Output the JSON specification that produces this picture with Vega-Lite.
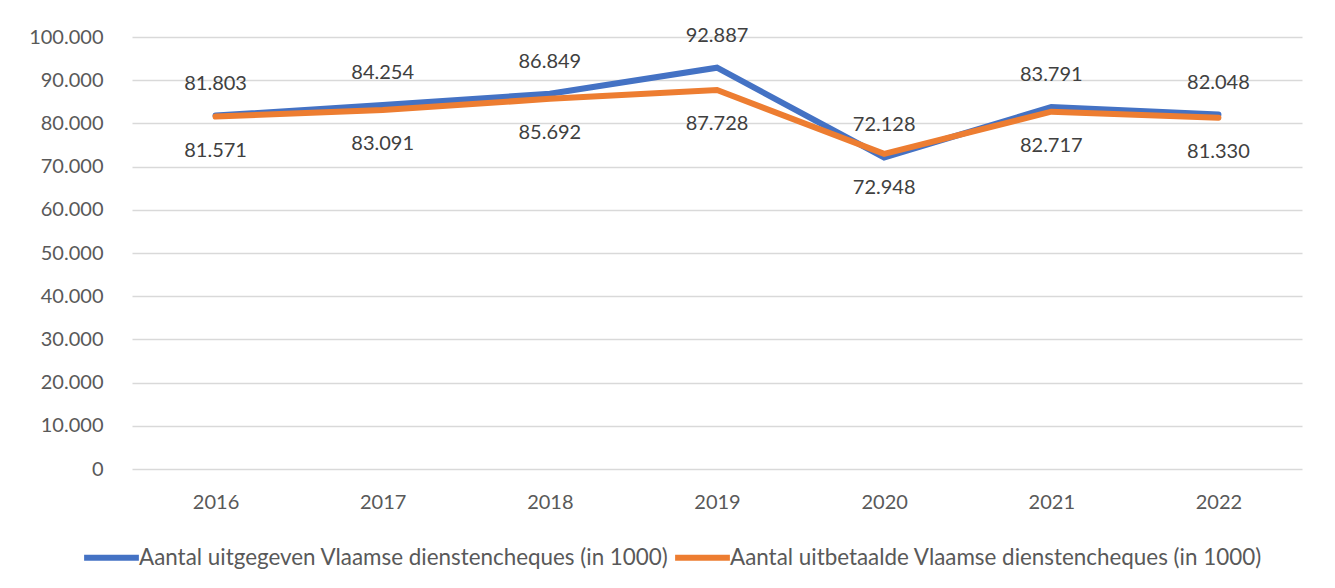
{
  "$schema": "https://vega.github.io/schema/vega-lite/v6.json",
  "width": 1170,
  "height": 432,
  "autosize": {"type": "none"},
  "padding": {"left": 132, "top": 37, "right": 33, "bottom": 119},
  "background": "white",
  "data": {
    "values": [
      {"year": "2016", "series": "Aantal uitgegeven Vlaamse dienstencheques (in 1000)", "value": 81803},
      {"year": "2017", "series": "Aantal uitgegeven Vlaamse dienstencheques (in 1000)", "value": 84254},
      {"year": "2018", "series": "Aantal uitgegeven Vlaamse dienstencheques (in 1000)", "value": 86849},
      {"year": "2019", "series": "Aantal uitgegeven Vlaamse dienstencheques (in 1000)", "value": 92887},
      {"year": "2020", "series": "Aantal uitgegeven Vlaamse dienstencheques (in 1000)", "value": 72128},
      {"year": "2021", "series": "Aantal uitgegeven Vlaamse dienstencheques (in 1000)", "value": 83791},
      {"year": "2022", "series": "Aantal uitgegeven Vlaamse dienstencheques (in 1000)", "value": 82048},
      {"year": "2016", "series": "Aantal uitbetaalde Vlaamse dienstencheques (in 1000)", "value": 81571},
      {"year": "2017", "series": "Aantal uitbetaalde Vlaamse dienstencheques (in 1000)", "value": 83091},
      {"year": "2018", "series": "Aantal uitbetaalde Vlaamse dienstencheques (in 1000)", "value": 85692},
      {"year": "2019", "series": "Aantal uitbetaalde Vlaamse dienstencheques (in 1000)", "value": 87728},
      {"year": "2020", "series": "Aantal uitbetaalde Vlaamse dienstencheques (in 1000)", "value": 72948},
      {"year": "2021", "series": "Aantal uitbetaalde Vlaamse dienstencheques (in 1000)", "value": 82717},
      {"year": "2022", "series": "Aantal uitbetaalde Vlaamse dienstencheques (in 1000)", "value": 81330}
    ]
  },
  "encoding": {
    "x": {
      "field": "year", "type": "ordinal",
      "scale": {"type": "point", "padding": 0.5},
      "axis": {"title": null, "labelAngle": 0, "domain": false, "ticks": false, "tickSize": 0, "grid": false, "labelPadding": 23}
    },
    "y": {
      "field": "value", "type": "quantitative",
      "scale": {"domain": [0, 100000], "nice": false},
      "axis": {"title": null, "values": [0, 10000, 20000, 30000, 40000, 50000, 60000, 70000, 80000, 90000, 100000], "format": ",d", "domain": false, "ticks": false, "tickSize": 0, "labelPadding": 29, "grid": true, "gridColor": "#D9D9D9", "gridWidth": 1.3}
    }
  },
  "layer": [
    {
      "mark": {"type": "line", "strokeWidth": 6, "strokeJoin": "miter", "strokeCap": "round"},
      "encoding": {
        "color": {
          "field": "series", "type": "nominal",
          "scale": {
            "domain": ["Aantal uitgegeven Vlaamse dienstencheques (in 1000)", "Aantal uitbetaalde Vlaamse dienstencheques (in 1000)"],
            "range": ["#4472C4", "#ED7D31"]
          },
          "legend": {
            "title": null, "orient": "none", "direction": "horizontal",
            "legendX": -51, "legendY": 490,
            "symbolType": "stroke", "symbolSize": 3000, "symbolStrokeWidth": 6,
            "labelFont": "Lato", "labelFontSize": 22.4, "labelColor": "#595959",
            "labelLimit": 1000, "labelOffset": -3, "columnPadding": -6
          }
        }
      }
    },
    {
      "transform": [{"filter": "datum.series === 'Aantal uitgegeven Vlaamse dienstencheques (in 1000)'"}],
      "mark": {"type": "text", "dy": -32, "baseline": "middle", "font": "Lato", "fontSize": 20, "color": "#404040"},
      "encoding": {"text": {"field": "value", "type": "quantitative", "format": ",d"}}
    },
    {
      "transform": [{"filter": "datum.series === 'Aantal uitbetaalde Vlaamse dienstencheques (in 1000)'"}],
      "mark": {"type": "text", "dy": 34, "baseline": "middle", "font": "Lato", "fontSize": 20, "color": "#404040"},
      "encoding": {"text": {"field": "value", "type": "quantitative", "format": ",d"}}
    }
  ],
  "config": {
    "locale": {"number": {"decimal": ",", "thousands": ".", "grouping": [3], "currency": ["€", ""]}},
    "view": {"stroke": null},
    "axis": {"labelFont": "Lato", "labelFontSize": 20, "labelColor": "#595959"}
  }
}
